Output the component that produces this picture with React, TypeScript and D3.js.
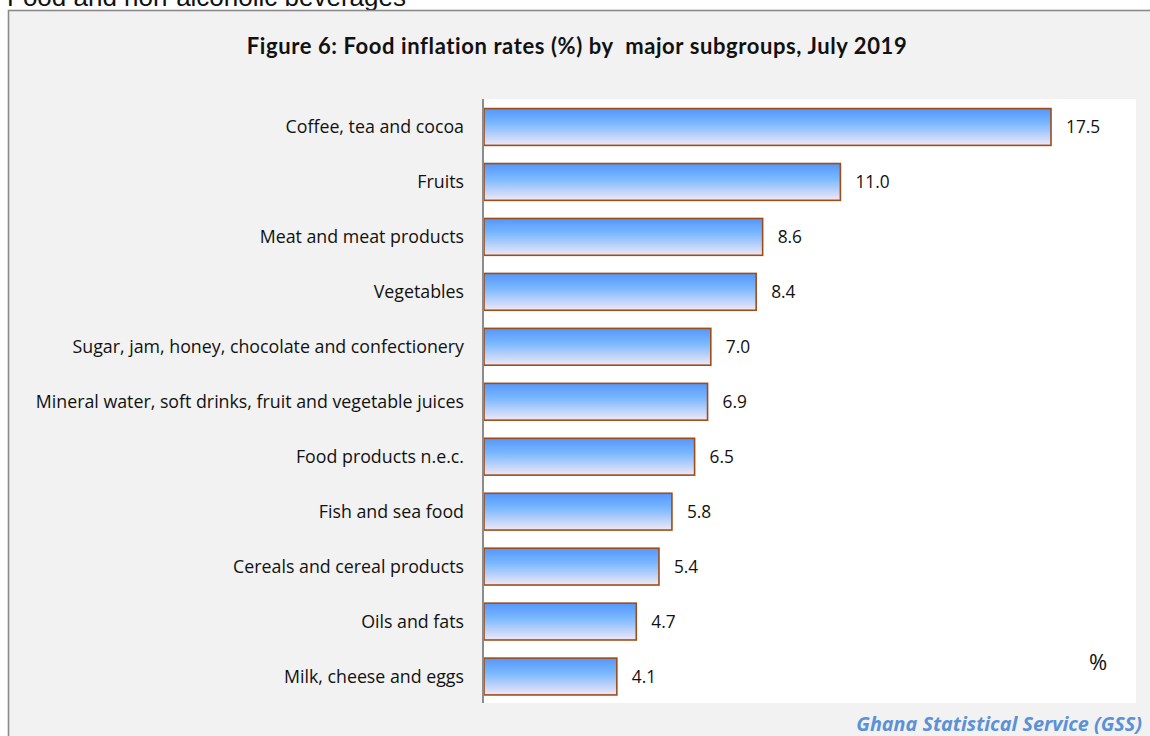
import React from 'react';
import * as d3 from 'd3';

const categories = [
  'Coffee, tea and cocoa',
  'Fruits',
  'Meat and meat products',
  'Vegetables',
  'Sugar, jam, honey, chocolate and confectionery',
  'Mineral water, soft drinks, fruit and vegetable juices',
  'Food products n.e.c.',
  'Fish and sea food',
  'Cereals and cereal products',
  'Oils and fats',
  'Milk, cheese and eggs',
];
const values = [17.5, 11.0, 8.6, 8.4, 7.0, 6.9, 6.5, 5.8, 5.4, 4.7, 4.1];

const width = 1150;
const height = 736;
const plot = { left: 484, right: 1136, top: 99, bottom: 703 };
const titleFont = 'Lato, sans-serif';
const font = '"Open Sans", "Noto Sans", sans-serif';

const App: React.FC = () => {
  const x = d3.scaleLinear().domain([0, 20]).range([plot.left, 1132]);
  const y = d3
    .scaleBand<string>()
    .domain(categories)
    .range([99.5, 704])
    .paddingInner(0.33)
    .paddingOuter(0.165);

  return (
    <svg
      width={width}
      height={height}
      style={{ position: 'absolute', left: 0, top: 0, display: 'block' }}
    >
      <defs>
        <linearGradient id="barFill" x1="0" y1="0" x2="0" y2="1">
          <stop offset="0%" stopColor="#5596fb" />
          <stop offset="40%" stopColor="#79b7ff" />
          <stop offset="100%" stopColor="#f0e8f6" />
        </linearGradient>
      </defs>

      {/* page heading, cut at the top */}
      <text x={7} y={6} fontFamily='"Liberation Sans", Arial, sans-serif' fontSize={26} fill="#111">
        Food and non-alcoholic beverages
      </text>

      {/* frame */}
      <rect x={8.5} y={10.5} width={1150} height={740} fill="#f2f2f2" stroke="#8a8a8a" strokeWidth={1.6} />
      <rect x={plot.left} y={plot.top} width={plot.right - plot.left} height={plot.bottom - plot.top} fill="#fff" />

      <text
        x={577}
        y={54}
        textAnchor="middle"
        fontFamily={titleFont}
        fontWeight="bold"
        fontSize={22}
        letterSpacing={0.6}
        fill="#111"
        style={{ whiteSpace: 'pre' }}
      >
        Figure 6: Food inflation rates (%) by  major subgroups, July 2019
      </text>

      {categories.map((c, i) => (
        <g key={c}>
          <rect
            x={x(0)}
            y={y(c)!}
            width={x(values[i]) - x(0)}
            height={y.bandwidth()}
            fill="url(#barFill)"
            stroke="#9e4d16"
            strokeWidth={1.6}
          />
          <text
            x={464}
            y={y(c)! + y.bandwidth() / 2}
            dy="0.35em"
            textAnchor="end"
            fontFamily={font}
            fontSize={17.8}
            fill="#111"
          >
            {c}
          </text>
          <text
            x={x(values[i]) + 15}
            y={y(c)! + y.bandwidth() / 2}
            dy="0.35em"
            fontFamily={font}
            fontSize={17.3}
            fill="#111"
          >
            {values[i].toFixed(1)}
          </text>
        </g>
      ))}

      {/* vertical axis */}
      <line x1={plot.left - 1} x2={plot.left - 1} y1={plot.top} y2={plot.bottom} stroke="#8c8c8c" strokeWidth={2} />

      <text x={1098} y={670} textAnchor="middle" fontFamily={font} fontSize={22} fill="#111">
        %
      </text>

      <text x={1142} y={731} textAnchor="end" fontFamily={font} fontWeight="bold" fontStyle="italic" fontSize={19.8} fill="#5b91d6">
        Ghana Statistical Service (GSS)
      </text>
    </svg>
  );
};

export default App;
